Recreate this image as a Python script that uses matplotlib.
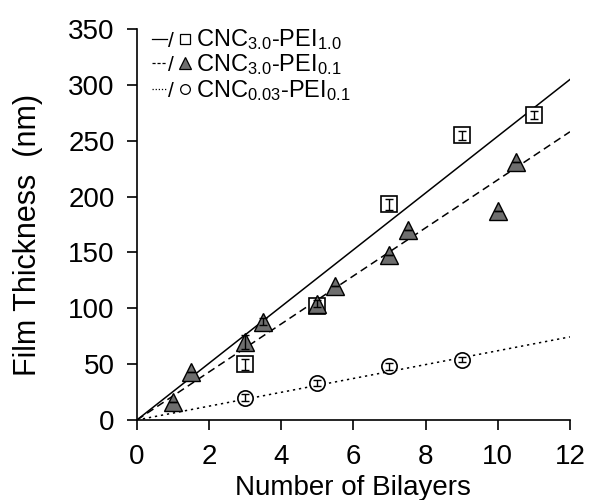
import numpy as np
import matplotlib.pyplot as plt

plt.rcParams['font.family'] = ['Liberation Sans', 'DejaVu Sans']
plt.rcParams['mathtext.fontset'] = 'custom'
plt.rcParams['mathtext.rm'] = 'Liberation Sans'
plt.rcParams['mathtext.default'] = 'regular'

# CNC3.0-PEI1.0 (open squares)
sq_x = [3, 5, 7, 9, 11]
sq_y = [50, 102, 193, 255, 273]
sq_err = [5, 3, 5, 4, 4]

# CNC3.0-PEI0.1 (grey triangles)
tri_x = [1, 1.5, 3, 3.5, 5, 5.5, 7, 7.5, 10, 10.5]
tri_y = [16, 43, 70, 88, 104, 120, 148, 170, 187, 231]
tri_err = [0, 0, 6, 3, 3, 0, 0, 0, 0, 0]

# CNC0.03-PEI0.1 (open circles)
cir_x = [3, 5, 7, 9]
cir_y = [20, 33, 48, 54]
cir_err = [3, 3, 3, 2]

# linear fits through the origin (slopes)
fit_x = [0, 12]
slope_sq = 25.4
slope_tri = 21.5
slope_cir = 6.2

fig = plt.figure(figsize=(5.9, 5.0), dpi=100)
ax = fig.add_axes([0.232, 0.16, 0.734, 0.782])

fx = np.array(fit_x)
ax.plot(fx, slope_sq * fx, color='black', lw=1.1, zorder=1)
ax.plot(fx, slope_tri * fx, color='black', lw=1.1, dashes=(5, 3), zorder=1)
ax.plot(fx, slope_cir * fx, color='black', lw=1.1, dashes=(1.5, 2.5), zorder=1)

ax.plot(sq_x, sq_y, 's', ms=11, mfc='white', mec='black', mew=1.2, zorder=3)
ax.plot(cir_x, cir_y, 'o', ms=11, mfc='white', mec='black', mew=1.2, zorder=3)
ax.errorbar(sq_x, sq_y, yerr=sq_err, fmt='none', ecolor='black', elinewidth=1,
            capsize=3, zorder=5)
ax.errorbar(cir_x, cir_y, yerr=cir_err, fmt='none', ecolor='black', elinewidth=1,
            capsize=3, zorder=5)
ax.plot(tri_x, tri_y, '^', ms=13, mfc='#6e6e6e', mec='black', mew=1.0, zorder=6)
ax.errorbar(tri_x, tri_y, yerr=tri_err, fmt='none', ecolor='black', elinewidth=1,
            capsize=3, zorder=7)

ax.set_xlim(0, 12)
ax.set_ylim(0, 350)
ax.set_xticks(range(0, 13, 2))
ax.set_yticks(range(0, 351, 50))
ax.spines['top'].set_visible(False)
ax.spines['right'].set_visible(False)
ax.spines['left'].set_linewidth(1.2)
ax.spines['bottom'].set_linewidth(1.2)
ax.tick_params(direction='out', length=7, width=1.2, labelsize=20)
ax.tick_params(axis='y', pad=9)
ax.tick_params(axis='x', pad=10)
ax.set_xlabel('Number of Bilayers', fontsize=20)
ax.set_ylabel('Film Thickness  (nm)', fontsize=22)
ax.xaxis.set_label_coords(0.5, -0.14)
ax.yaxis.set_label_coords(-0.217, 0.473)

# hand-made legend
labels = [r'CNC$_{3.0}$-PEI$_{1.0}$', r'CNC$_{3.0}$-PEI$_{0.1}$', r'CNC$_{0.03}$-PEI$_{0.1}$']
dash_styles = [None, (2.5, 1.5), (1, 1.5)]
markers = [('s', 'white', 7), ('^', '#6e6e6e', 9), ('o', 'white', 7)]
ys = [0.955, 0.893, 0.827]
for lab, dsh, (mk, fc, ms), yy in zip(labels, dash_styles, markers, ys):
    ln, = ax.plot([0.035, 0.07], [yy + 0.02, yy + 0.02], transform=ax.transAxes,
                  color='black', lw=0.9, clip_on=False)
    if dsh is not None:
        ln.set_dashes(dsh)
    ax.text(0.072, yy, '/', transform=ax.transAxes, fontsize=15, va='baseline', ha='left')
    ax.plot([0.11], [yy + 0.02], marker=mk, ms=ms, mfc=fc, mec='black', mew=0.9,
            transform=ax.transAxes, clip_on=False, ls='none')
    ax.text(0.137, yy, lab, transform=ax.transAxes, fontsize=17, va='baseline', ha='left')

fig.savefig('out.png', dpi=100)
